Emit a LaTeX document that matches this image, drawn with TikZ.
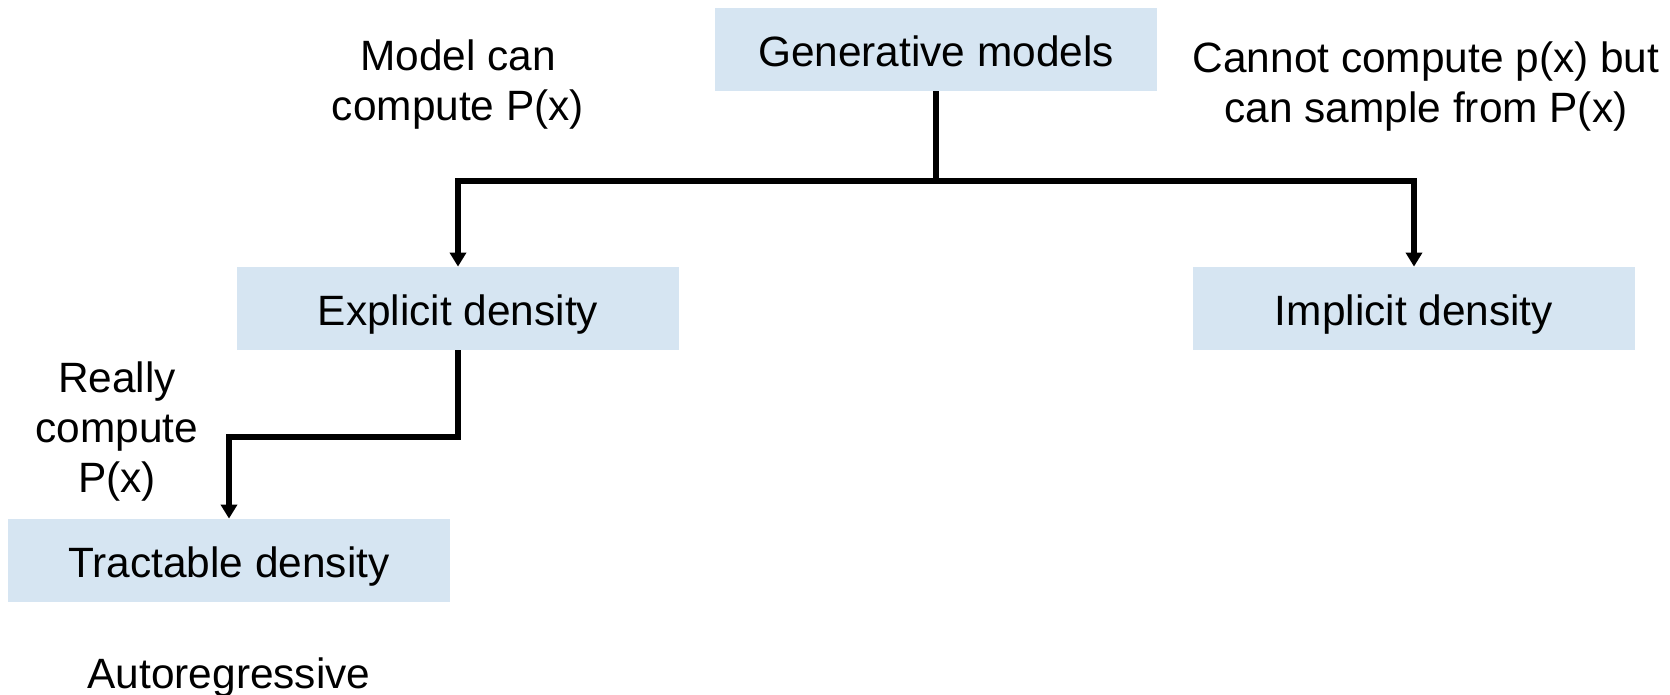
\documentclass[tikz,border=0pt]{standalone}
\usepackage{fontspec}
\setmainfont{Liberation Sans}
\usetikzlibrary{arrows.meta}
\definecolor{boxblue}{RGB}{214,229,242}
\begin{document}
\begin{tikzpicture}[x=0.5pt,y=-0.5pt,
  box/.style={fill=boxblue,draw=none,minimum width=221pt,minimum height=41.5pt,inner sep=0pt,text height=20pt,text depth=3.2pt,font=\fontsize{21.2}{24.5}\selectfont},
  lbl/.style={align=center,inner sep=0pt,font=\fontsize{21.2}{25}\selectfont},
  conn/.style={line width=2.6pt,draw=black},
  arr/.style={conn,-{Triangle[width=8pt,length=7pt]}}]
\useasboundingbox (0,0) rectangle (1670,695);
\node[box] (gen) at (936,49.5) {Generative models};
\node[box] (expl) at (458,308.5) {Explicit density};
\node[box] (impl) at (1414,308.5) {Implicit density};
\node[box] (tract) at (229,560.5) {Tractable density};
\node[lbl] (lmodel) at (458,85) {Model can\\compute P(x)};
\node[lbl] (lcannot) at (1426,87) {Cannot compute p(x) but\\can sample from P(x)};
\node[lbl] (lreally) at (117,432) {Really\\compute\\P(x)};
\node[lbl] (lauto) at (229,678) {Autoregressive};
\coordinate (j) at (936,181);
\coordinate (k) at (229,437);
\draw[conn] (gen.south) -- (j);
\draw[arr] (j) -| (expl.north);
\draw[arr] (j) -| (impl.north);
\draw[arr] (expl.south) |- (k) -- (tract.north);
\end{tikzpicture}
\end{document}
